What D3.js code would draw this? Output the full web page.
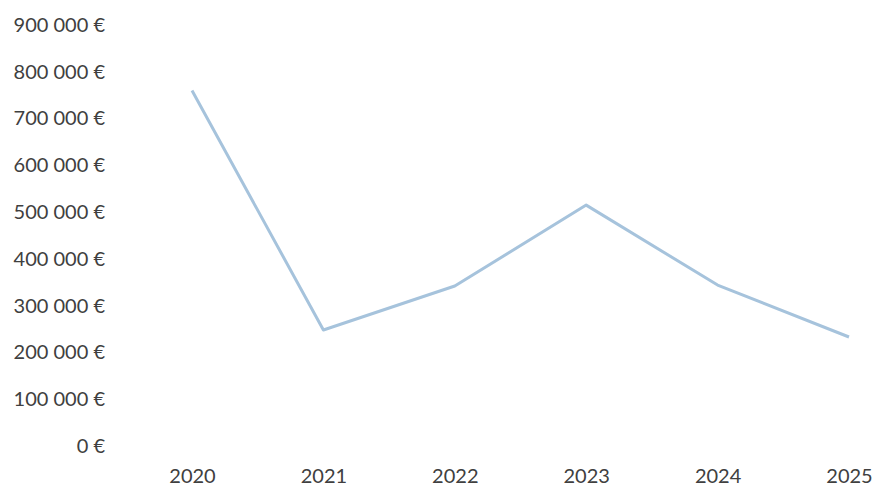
<!DOCTYPE html>
<html>
<head>
<meta charset="utf-8">
<script src="https://cdn.jsdelivr.net/npm/d3@7"></script>
<style>
  body { margin: 0; background: #fff; }
  svg text { font-family: Lato, "Open Sans", sans-serif; fill: #404040; }
</style>
</head>
<body>
<svg width="875" height="488"></svg>
<script>
const years = ["2020", "2021", "2022", "2023", "2024", "2025"];
const amounts = [760000, 248000, 342000, 515000, 344000, 233000];
const yTicks = [0, 100000, 200000, 300000, 400000, 500000, 600000, 700000, 800000, 900000];

const svg = d3.select("svg"),
    width = +svg.attr("width"),
    height = +svg.attr("height");

const x = d3.scalePoint().domain(years).range([192, 849]);
const y = d3.scaleLinear().domain([0, 900000]).range([446, 25]);

const fmt = v => d3.format(",")(v).replace(/,/g, " ") + " €";

// y axis labels
svg.append("g")
    .attr("transform", "translate(105,0)")
    .call(d3.axisLeft(y).tickValues(yTicks).tickSize(0).tickPadding(0).tickFormat(fmt))
    .call(g => g.select(".domain").remove())
    .selectAll("text")
    .attr("font-size", 20)
    .attr("font-family", "Lato, 'Open Sans', sans-serif")
    .attr("fill", "#454545");

// x axis labels
svg.append("g")
    .attr("transform", "translate(0,476)")
    .call(d3.axisBottom(x).tickSize(0).tickPadding(0))
    .call(g => g.select(".domain").remove())
    .selectAll("text")
    .attr("y", 0)
    .attr("dy", "0.36em")
    .attr("font-size", 20)
    .attr("font-family", "Lato, 'Open Sans', sans-serif")
    .attr("fill", "#454545");

const line = d3.line()
    .x((d, i) => x(years[i]))
    .y(d => y(d));

svg.append("path")
    .datum(amounts)
    .attr("fill", "none")
    .attr("stroke", "#a6c3dc")
    .attr("stroke-width", 3)
    .attr("stroke-linejoin", "round")
    .attr("d", line);
</script>
</body>
</html>
